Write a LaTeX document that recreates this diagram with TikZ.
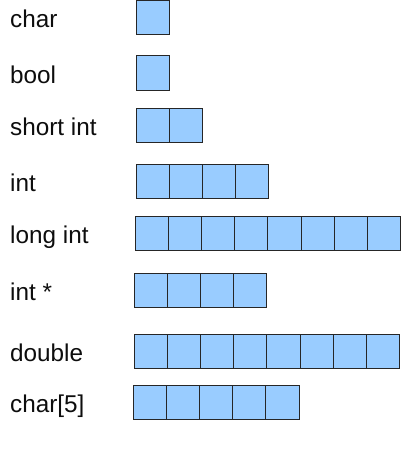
\documentclass[tikz,border=0pt]{standalone}
\usepackage{fontspec}
\setmainfont{Liberation Sans}
\definecolor{cellblue}{HTML}{99CCFF}
\tikzset{
  cell/.style={draw=black!85, fill=cellblue, line width=1pt, minimum width=33.2pt,
    minimum height=34pt, inner sep=0pt, outer sep=0pt, anchor=north west},
  typename/.style={anchor=base west, inner sep=0pt, text=black!95,
    font=\fontsize{24.3}{29}\selectfont}
}
\begin{document}
\begin{tikzpicture}[x=1pt, y=-1pt]
  \useasboundingbox (0,0) rectangle (400,452);
  % one row per type: name / label / bytes / left edge / top edge
  \foreach \name/\txt/\n/\x/\y in {char/char/1/136/1, bool/bool/1/136/56,
      short/short int/2/136/108, int/int/4/136/164, long/long int/8/135/216,
      ptr/int */4/134/273, double/double/8/134/334, arr/{char[5]}/5/133/385} {
    \node[typename] (\name) at (10,\y+27) {\txt};
    % one box per byte
    \foreach \i in {1,...,\n}
      \node[cell] (\name-\i) at ({\x+(\i-1)*33.2},\y) {};
  }
\end{tikzpicture}
\end{document}
